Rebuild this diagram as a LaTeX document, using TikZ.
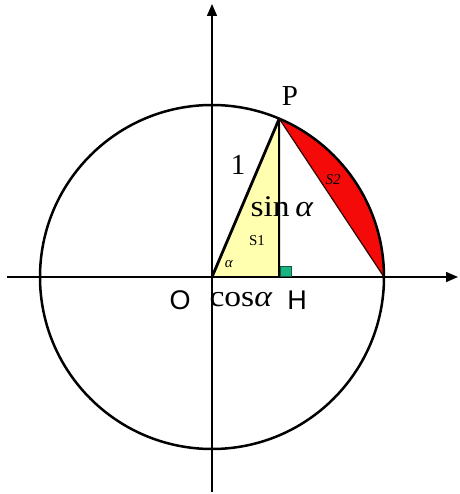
\documentclass[tikz,border=0pt]{standalone}
\usepackage{fontspec}
\setmainfont{Liberation Serif}
\newfontfamily\sansf{Liberation Sans}
\usetikzlibrary{arrows.meta}
\definecolor{segred}{RGB}{245,10,10}
\definecolor{triyellow}{RGB}{255,255,175}
\definecolor{rightgreen}{RGB}{25,180,130}

\begin{document}
\begin{tikzpicture}[x=1pt,y=1pt,
    axis/.style={line width=1.5pt,-{Triangle[length=12pt,width=10pt]}},
    big/.style={font=\fontsize{29}{30}\selectfont},
    wide/.style={font=\fontsize{30}{31}\selectfont, xscale=1.12},
    small/.style={font=\fontsize{15}{16}\selectfont}]
    \useasboundingbox (-212,-217) rectangle (247,277);
    % 点
    \coordinate (O) at (0,0);
    \coordinate (P) at (67:172);
    \coordinate (H) at (67.2,0);
    \coordinate (A) at (172,0);

    % 三角形 OHP
    \fill[triyellow] (O) -- (H) -- (P) -- cycle;
    % 弓形
    \fill[segred] (A) arc[start angle=0,end angle=67,radius=172] -- cycle;

    % 坐标轴
    \draw[axis] (-205,0) -- (246,0);
    \draw[axis] (0,-215) -- (0,273);

    % 单位圆
    \draw[line width=2.5pt] (O) circle (172);

    \draw[line width=2.8pt] (O) -- (P);
    \draw[line width=2pt] (P) -- (H);
    \draw[line width=1.2pt, black!80!red] (P) -- (A);
    \draw[rightgreen!50!black, fill=rightgreen, line width=0.6pt]
        (H) ++(1,0.5) rectangle ++(11,10);

    % 标注
    \node[big] at (78,181) {P};
    \node[big] at (26,112) {1};
    \node[wide] at (70,70) {sin\,\textit{α}};
    \node[small] at (45,36) {S1};
    \node[small] at (17,13) {\textit{α}};
    \node[big,font=\sansf\fontsize{27}{28}\selectfont] at (-32,-23) {O};
    \node[wide] at (29,-23) {cos\textit{α}};
    \node[big,font=\sansf\fontsize{27}{28}\selectfont] at (85,-23) {H};
    \node[small,font=\itshape\fontsize{15}{16}\selectfont] at (121,97) {S2};
\end{tikzpicture}
\end{document}
